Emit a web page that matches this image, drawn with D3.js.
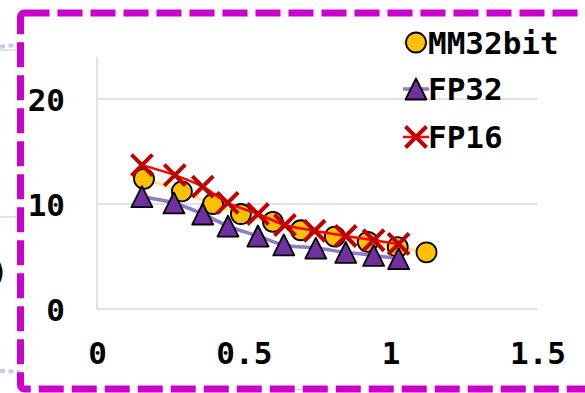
<!DOCTYPE html>
<html>
<head>
<meta charset="utf-8">
<script src="https://cdn.jsdelivr.net/npm/d3@7"></script>
<style>
  html, body { margin: 0; padding: 0; background: #fff; }
  svg { display: block; }
</style>
</head>
<body>
<svg id="chart"></svg>
<script>
// data
var seriesNames = ['MM32bit', 'FP32', 'FP16'];
var mm32X = [0.16, 0.289, 0.395, 0.49, 0.599, 0.694, 0.81, 0.922, 1.024, 1.122];
var mm32Y = [12.4, 11.2, 10.0, 9.05, 8.3, 7.5, 6.9, 6.4, 5.9, 5.4];
var fp32X = [0.153, 0.262, 0.36, 0.446, 0.548, 0.636, 0.745, 0.847, 0.942, 1.027];
var fp32Y = [10.7, 10.1, 9.05, 7.9, 6.95, 6.1, 5.8, 5.4, 5.1, 4.8];
var fp16X = [0.153, 0.265, 0.36, 0.445, 0.548, 0.64, 0.741, 0.847, 0.942, 1.027];
var fp16Y = [13.7, 12.75, 11.65, 10.1, 9.05, 8.0, 7.45, 6.95, 6.55, 6.2];
var xTicks = [0, 0.5, 1, 1.5];
var yTicks = [0, 10, 20];

var w = 585, h = 393;
var font = "'DejaVu Sans Mono', 'Liberation Mono', monospace", fontSize = 31;
var magenta = '#cc00cc', lavDot = '#d4c3e3';

var svg = d3.select('#chart').attr('width', w).attr('height', h);
svg.append('rect').attr('width', w).attr('height', h).attr('fill', '#fff');

// bits of the big chart behind the zoom box
svg.append('line').attr('x1', 0).attr('y1', 50).attr('x2', 20).attr('y2', 50)
  .attr('stroke', '#d9d9d9').attr('stroke-width', 1.5);
svg.append('line').attr('x1', 0).attr('y1', 217).attr('x2', 20).attr('y2', 217)
  .attr('stroke', '#d9d9d9').attr('stroke-width', 1.5);
svg.append('text').attr('x', -10).attr('y', 282).text(')')
  .attr('font-family', font).attr('font-size', 30).attr('font-weight', 'bold');

// dotted connector lines
svg.append('line').attr('x1', 0).attr('y1', 46.7).attr('x2', 310).attr('y2', 12)
  .attr('stroke', lavDot).attr('stroke-width', 4).attr('stroke-dasharray', '5 3.5');
svg.append('line').attr('x1', 0).attr('y1', 370.7).attr('x2', 305).attr('y2', 388.7)
  .attr('stroke', lavDot).attr('stroke-width', 4).attr('stroke-dasharray', '5 3.5');

// zoom box
svg.append('rect').attr('x', 20.5).attr('y', 13).attr('width', 580).attr('height', 376)
  .attr('fill', '#fff');

var x = d3.scaleLinear().domain([0, 1.5]).range([97, 537.5]);
var y = d3.scaleLinear().domain([0, 24]).range([309, 57]);

// gridlines
svg.selectAll('line.grid').data(yTicks).enter().append('line')
  .attr('class', 'grid')
  .attr('x1', x(0)).attr('x2', x(1.5))
  .attr('y1', function(d) { return y(d); })
  .attr('y2', function(d) { return y(d); })
  .attr('stroke', '#d9d9d9').attr('stroke-width', 1.5);
svg.append('line').attr('x1', x(0)).attr('x2', x(0)).attr('y1', y(24)).attr('y2', y(0))
  .attr('stroke', '#d9d9d9').attr('stroke-width', 1.5);

// axes
var yAxis = d3.axisLeft(y).tickValues(yTicks).tickSize(0).tickPadding(32).tickFormat(d3.format('d'));
var xAxis = d3.axisBottom(x).tickValues(xTicks).tickSize(0).tickPadding(0).tickFormat(function(d) { return String(d); });
var gy = svg.append('g').attr('transform', 'translate(' + x(0) + ',0)').call(yAxis);
var gx = svg.append('g').attr('transform', 'translate(0,' + 353 + ')').call(xAxis);
[gx, gy].forEach(function(g) {
  g.select('.domain').remove();
  g.selectAll('text').attr('font-family', font).attr('font-size', fontSize)
    .attr('font-weight', 'bold').attr('fill', '#000');
});
gx.selectAll('text').attr('dy', '0.36em');
gy.selectAll('text').attr('dy', '0.36em');

function pts(xs, ys) {
  return xs.map(function(v, i) { return [v, ys[i]]; });
}
var series = [
  { name: seriesNames[0], data: pts(mm32X, mm32Y), line: '#ffe699', lw: 3.5, mark: 'circle' },
  { name: seriesNames[1], data: pts(fp32X, fp32Y), line: '#8b7bcb', lw: 3.5, mark: 'triangle' },
  { name: seriesNames[2], data: pts(fp16X, fp16Y), line: '#ff0000', lw: 2.5, mark: 'cross' }
];

var lineGen = d3.line().curve(d3.curveCatmullRom)
  .x(function(d) { return x(d[0]); })
  .y(function(d) { return y(d[1]); });

function drawMark(g, kind, cx, cy) {
  if (kind == 'circle') {
    g.append('circle').attr('cx', cx).attr('cy', cy).attr('r', 10)
      .attr('fill', '#ffc000').attr('stroke', '#000').attr('stroke-width', 1.8);
  } else if (kind == 'triangle') {
    g.append('path')
      .attr('d', 'M' + cx + ',' + (cy - 10.5) + 'L' + (cx + 10.5) + ',' + (cy + 10.5) + 'L' + (cx - 10.5) + ',' + (cy + 10.5) + 'Z')
      .attr('fill', '#7030a0').attr('stroke', '#000').attr('stroke-width', 1.8)
      .attr('stroke-linejoin', 'round');
  } else {
    var s = 10.5;
    g.append('path')
      .attr('d', 'M' + (cx - s) + ',' + (cy - s) + 'L' + (cx + s) + ',' + (cy + s) +
        'M' + (cx + s) + ',' + (cy - s) + 'L' + (cx - s) + ',' + (cy + s))
      .attr('stroke', '#c00000').attr('stroke-width', 4).attr('fill', 'none');
  }
}

series.forEach(function(s) {
  var g = svg.append('g');
  g.append('path').datum(s.data).attr('d', lineGen)
    .attr('fill', 'none').attr('stroke', s.line).attr('stroke-width', s.lw);
  s.data.forEach(function(d) { drawMark(g, s.mark, x(d[0]), y(d[1])); });
});

// legend
var legY = [42.5, 89, 137];
series.forEach(function(s, i) {
  var g = svg.append('g');
  g.append('line').attr('x1', 403).attr('x2', 429).attr('y1', legY[i]).attr('y2', legY[i])
    .attr('stroke', s.line).attr('stroke-width', s.lw);
  drawMark(g, s.mark, 416, legY[i]);
  g.append('text').attr('x', 428).attr('y', legY[i]).attr('dy', '0.36em').text(s.name)
    .attr('font-family', font).attr('font-size', fontSize).attr('font-weight', 'bold');
});

// magenta dashed border on top
svg.append('rect').attr('x', 20.5).attr('y', 13).attr('width', 580).attr('height', 376)
  .attr('rx', 4).attr('fill', 'none').attr('stroke', magenta).attr('stroke-width', 7)
  .attr('stroke-dasharray', '25 8');
</script>
</body>
</html>
